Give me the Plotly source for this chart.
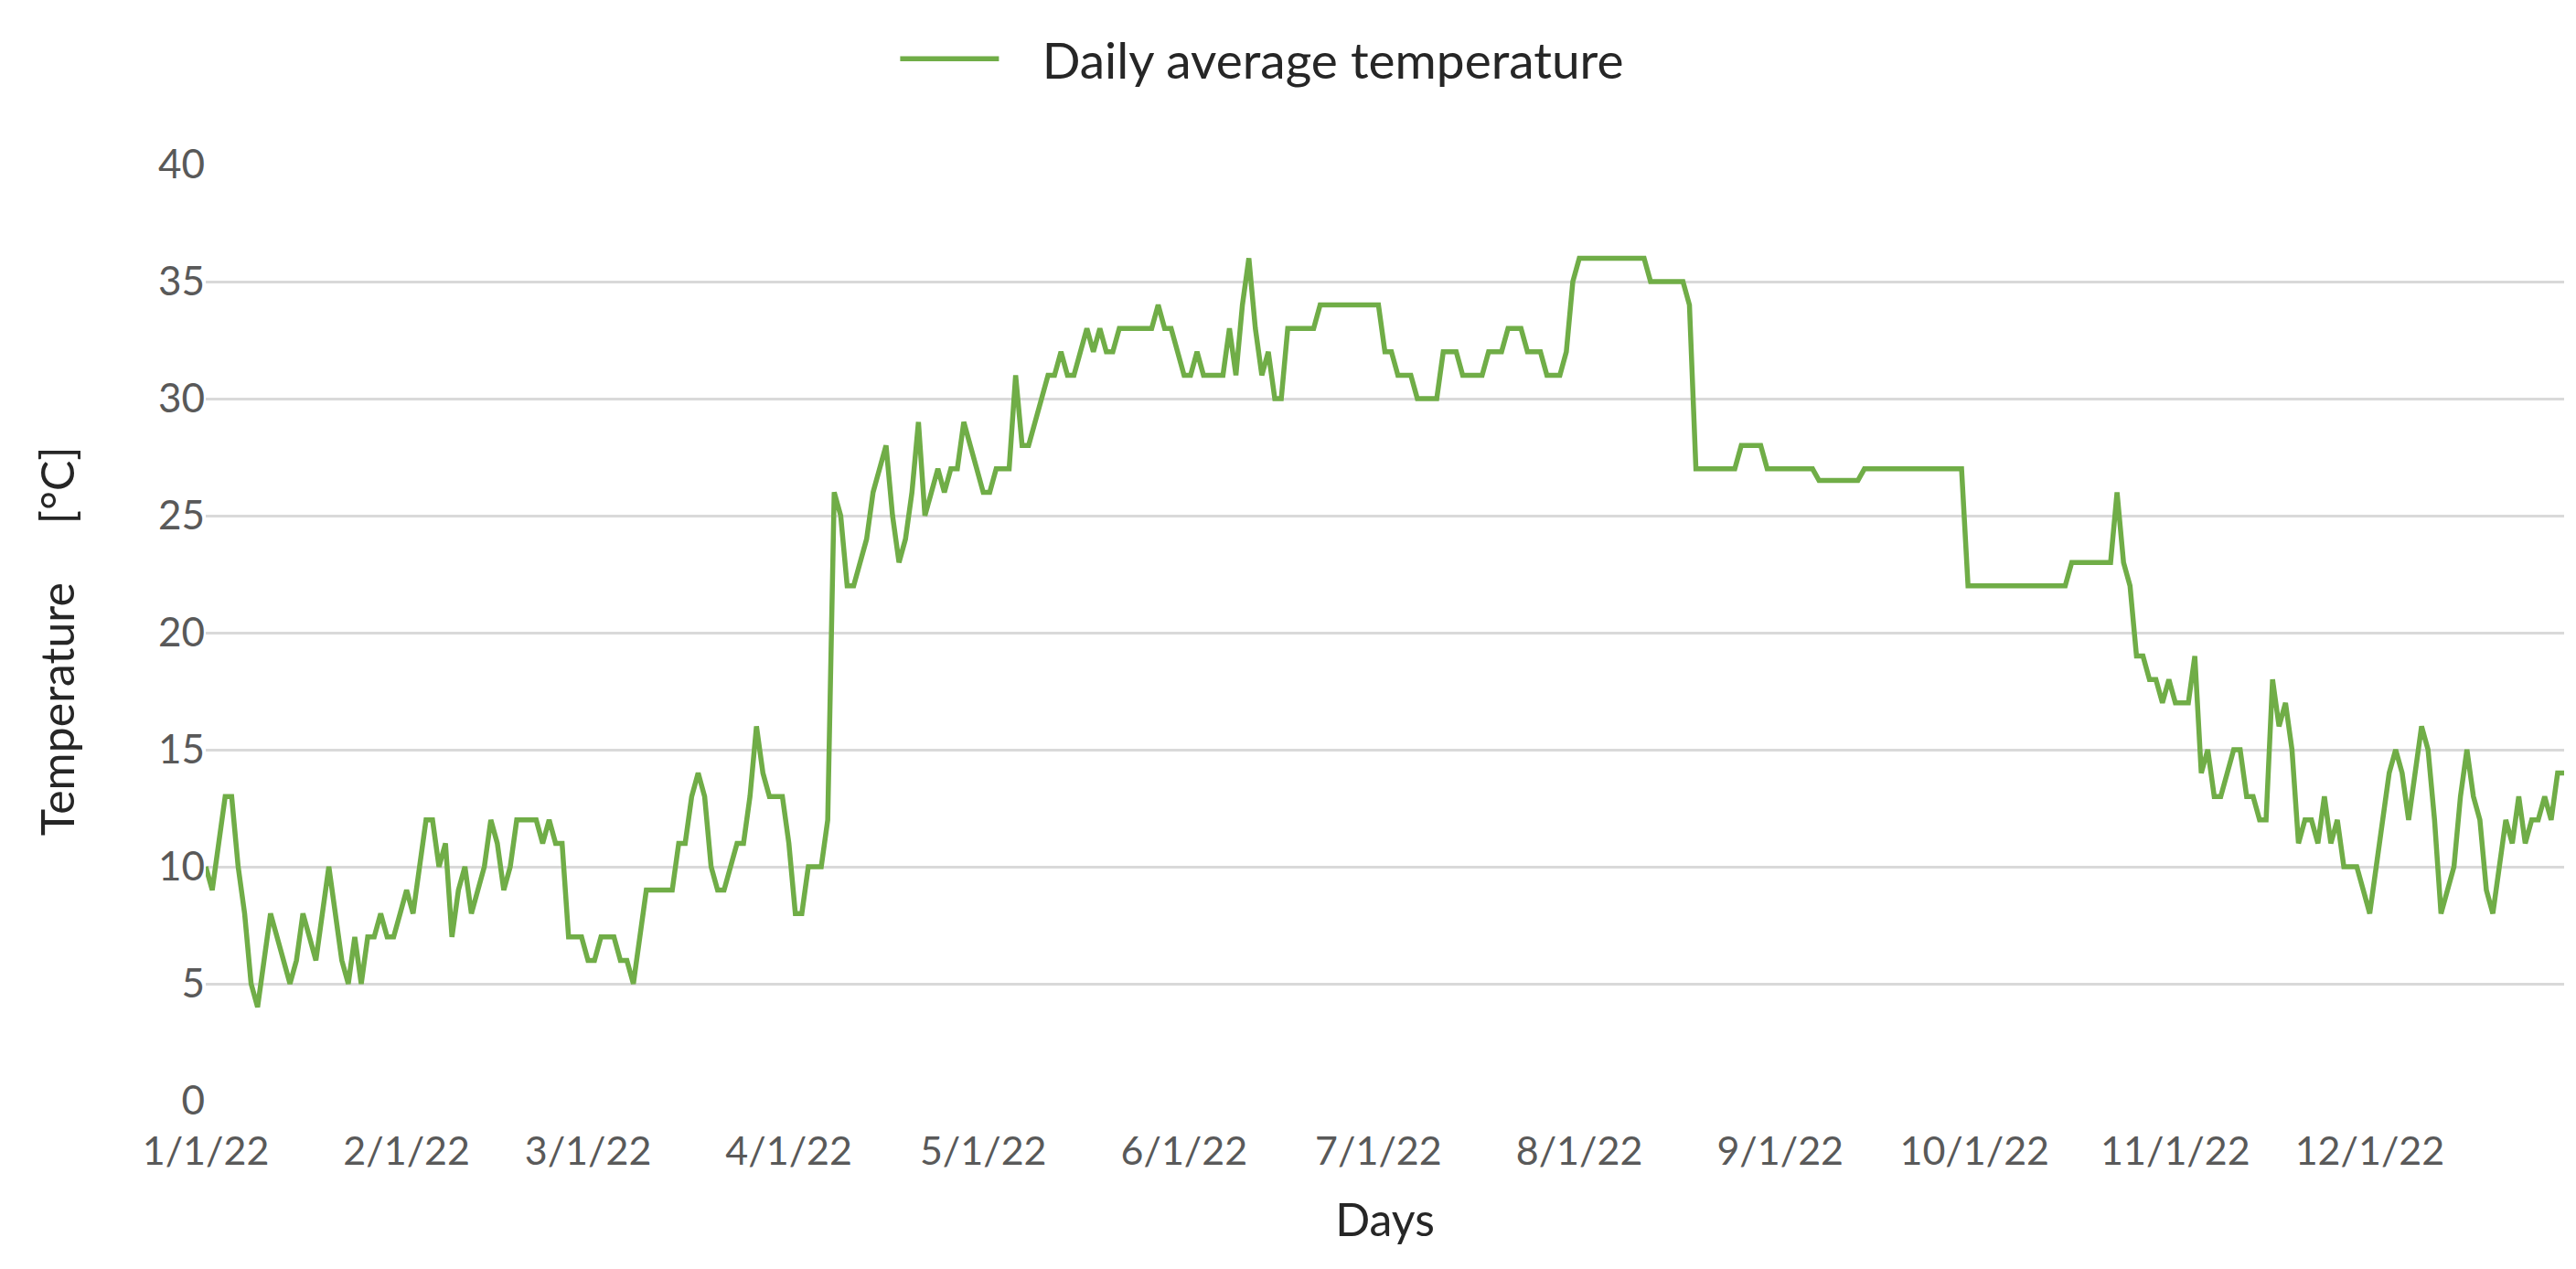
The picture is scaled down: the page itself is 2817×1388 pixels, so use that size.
import pandas as pd
import plotly.graph_objects as go

jan = [10, 9, 11, 13, 13, 10, 8, 5, 4, 6, 8, 7, 6, 5, 6, 8, 7, 6, 8, 10, 8, 6, 5, 7, 5, 7, 7, 8, 7, 7, 8]
feb = [9, 8, 10, 12, 12, 10, 11, 7, 9, 10, 8, 9, 10, 12, 11, 9, 10, 12, 12, 12, 12, 11, 12, 11, 11, 7, 7, 7]
mar = [6, 6, 7, 7, 7, 6, 6, 5, 7, 9, 9, 9, 9, 9, 11, 11, 13, 14, 13, 10, 9, 9, 10, 11, 11, 13, 16, 14, 13, 13, 13]
apr = [11, 8, 8, 10, 10, 10, 12, 26, 25, 22, 22, 23, 24, 26, 27, 28, 25, 23, 24, 26, 29, 25, 26, 27, 26, 27, 27, 29, 28, 27]
may = [26, 26, 27, 27, 27, 31, 28, 28, 29, 30, 31, 31, 32, 31, 31, 32, 33, 32, 33, 32, 32, 33, 33, 33, 33, 33, 33, 34, 33, 33, 32]
jun = [31, 31, 32, 31, 31, 31, 31, 33, 31, 34, 36, 33, 31, 32, 30, 30, 33, 33, 33, 33, 33, 34, 34, 34, 34, 34, 34, 34, 34, 34]
jul = [34, 32, 32, 31, 31, 31, 30, 30, 30, 30, 32, 32, 32, 31, 31, 31, 31, 32, 32, 32, 33, 33, 33, 32, 32, 32, 31, 31, 31, 32, 35]
aug = [36, 36, 36, 36, 36, 36, 36, 36, 36, 36, 36, 35, 35, 35, 35, 35, 35, 34, 27, 27, 27, 27, 27, 27, 27, 28, 28, 28, 28, 27, 27]
sep = [27, 27, 27, 27, 27, 27, 26.5, 26.5, 26.5, 26.5, 26.5, 26.5, 26.5, 27, 27, 27, 27, 27, 27, 27, 27, 27, 27, 27, 27, 27, 27, 27, 27, 22]
oct_ = [22, 22, 22, 22, 22, 22, 22, 22, 22, 22, 22, 22, 22, 22, 22, 23, 23, 23, 23, 23, 23, 23, 26, 23, 22, 19, 19, 18, 18, 17, 18]
nov = [17, 17, 17, 19, 14, 15, 13, 13, 14, 15, 15, 13, 13, 12, 12, 18, 16, 17, 15, 11, 12, 12, 11, 13, 11, 12, 10, 10, 10, 9]
dec = [8, 10, 12, 14, 15, 14, 12, 14, 16, 15, 12, 8, 9, 10, 13, 15, 13, 12, 9, 8, 10, 12, 11, 13, 11, 12, 12, 13, 12, 14, 14]

temps = jan + feb + mar + apr + may + jun + jul + aug + sep + oct_ + nov + dec
days = pd.date_range("2022-01-01", "2022-12-31", freq="D")
month_ticks = pd.date_range("2022-01-01", "2022-12-01", freq="MS")
y_ticks = [0, 5, 10, 15, 20, 25, 30, 35, 40]

FONT = "Lato"
GREEN = "#70AD47"
NB = "\u00a0"

fig = go.Figure()
fig.add_trace(go.Scatter(
    x=days, y=temps, mode="lines", name=NB * 3 + "Daily average temperature",
    line=dict(color=GREEN, width=5.5),
))

fig.update_layout(
    width=2817, height=1388,
    paper_bgcolor="white", plot_bgcolor="white",
    margin=dict(l=217, r=21, t=172, b=192),
    font=dict(family=FONT, size=44, color="#595959"),
    showlegend=True,
    legend=dict(
        orientation="h", x=0.448, xanchor="center", y=0.99, yanchor="top",
        yref="container", font=dict(size=55, color="#262626"),
        itemwidth=108, bgcolor="rgba(0,0,0,0)",
    ),
    xaxis=dict(
        range=[days[0], days[-1]],
        tickvals=month_ticks, tickformat="%-m/%-d/%y",
        showgrid=False, zeroline=False, showline=False,
        ticks="", ticklabelstandoff=26,
        tickfont=dict(size=43, color="#595959"),
        title=dict(text="Days", font=dict(size=50, color="#262626"), standoff=34),
    ),
    yaxis=dict(
        range=[0, 40], tickvals=y_ticks,
        showgrid=True, gridcolor="#D9D9D9", gridwidth=3,
        zeroline=False, showline=False, ticks="",
        tickfont=dict(size=44, color="#595959"),
    ),
    annotations=[dict(
        text="Temperature" + NB * 5 + "[°C]", textangle=-90,
        xref="paper", yref="paper", x=-0.0632, y=0.491,
        xanchor="center", yanchor="middle", showarrow=False,
        font=dict(size=50, color="#262626", family=FONT),
    )],
)

fig.write_html("out.html")
